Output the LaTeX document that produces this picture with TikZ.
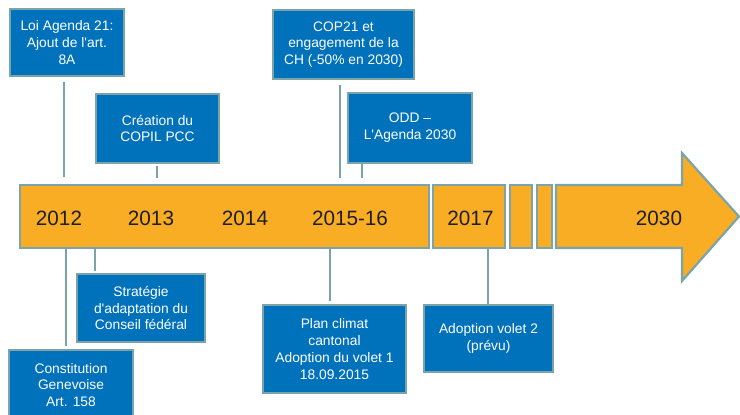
\documentclass[tikz,border=0pt]{standalone}
\usepackage{fontspec}
\setmainfont{Liberation Sans}
\definecolor{boxblue}{RGB}{0,114,188}
\definecolor{rim}{RGB}{122,164,170}
\definecolor{barorange}{RGB}{249,173,36}
\tikzset{
    event/.style={draw=rim, line width=2.2pt, fill=boxblue, text=white, align=center,
        inner sep=0pt, font=\fontsize{13.8}{16.8}\selectfont},
    segment/.style={draw=rim, line width=2.2pt, fill=barorange, inner sep=0pt, minimum height=63pt},
    year/.style={text=black!88, inner sep=0pt, font=\fontsize{20.7}{24}\selectfont},
    link/.style={draw=rim, line width=2pt},
}
\begin{document}
\begin{tikzpicture}[x=1pt, y=-1pt]
        \useasboundingbox (0,0) rectangle (740,415);
        \clip (0,0) rectangle (740,415);
        % timeline
        \node[segment, minimum width=409pt] (bar1) at (224.5,216.5) {};
        \node[segment, minimum width=72pt] (bar2) at (469,216.5) {};
        \node[segment, minimum width=22pt] (bar3) at (521,216.5) {};
        \node[segment, minimum width=15pt] (bar4) at (544.5,216.5) {};
        \draw[segment] (556,185) -- (682,185) -- (682,153) -- (739,216.5)
            -- (682,281) -- (682,248) -- (556,248) -- cycle;
        \foreach \x/\yr [count=\i] in {59/2012,151/2013,245/2014,350/2015-16,470.5/2017,659/2030} {
            \node[year] (yr\i) at (\x,218) {\yr};
        }
        % above
        \node[event, minimum width=114pt, minimum height=67pt] (loi) at (67,42.5)
            {Loi Agenda 21:\\Ajout de l\textquotesingle art.\\8A};
        \node[event, minimum width=123pt, minimum height=69pt] (copil) at (157.5,128.5)
            {Création du\\COPIL PCC};
        \node[event, minimum width=141pt, minimum height=69pt] (cop) at (343.5,44.5)
            {COP21 et\\engagement de la\\CH (-50\% en 2030)};
        \node[event, minimum width=124pt, minimum height=70pt] (odd) at (410,128)
            {ODD –\\L\textquotesingle Agenda 2030};
        \draw[link, shorten <=5pt, shorten >=7pt] ([xshift=-3pt]loi.south) -- ([xshift=-3pt]loi.south |- bar1.north);
        \draw[link, shorten <=2pt, shorten >=6pt] ([xshift=-.5pt]copil.south) -- ([xshift=-.5pt]copil.south |- bar1.north);
        \draw[link, shorten <=5pt, shorten >=6pt] ([xshift=-3.5pt]cop.south) -- ([xshift=-3.5pt]cop.south |- bar1.north);
        \draw[link, shorten >=6pt] ([xshift=-48pt]odd.south) -- ([xshift=-48pt]odd.south |- bar1.north);
        % below
        \node[event, minimum width=128pt, minimum height=68pt] (strat) at (141,308)
            {Stratégie\\d\textquotesingle adaptation du\\Conseil fédéral};
        \node[event, minimum width=124pt, minimum height=70pt] (constit) at (71,385)
            {Constitution\\Genevoise\\Art. 158};
        \node[event, minimum width=143pt, minimum height=88pt] (plan) at (334.5,349)
            {Plan climat\\cantonal\\Adoption du volet 1\\18.09.2015};
        \node[event, minimum width=129pt, minimum height=67pt] (volet) at (488.5,338.5)
            {Adoption volet 2\\(prévu)};
        \draw[link, shorten >=2pt] ([xshift=-46pt]strat.north |- bar1.south) -- ([xshift=-46pt]strat.north);
        \draw[link, shorten >=3pt] ([xshift=-5pt]constit.north |- bar1.south) -- ([xshift=-5pt]constit.north);
        \draw[link, shorten >=3pt] ([xshift=-4.5pt]plan.north |- bar1.south) -- ([xshift=-4.5pt]plan.north);
        \draw[link] ([xshift=-.5pt]volet.north |- bar2.south) -- ([xshift=-.5pt]volet.north);
    \end{tikzpicture}
\end{document}
